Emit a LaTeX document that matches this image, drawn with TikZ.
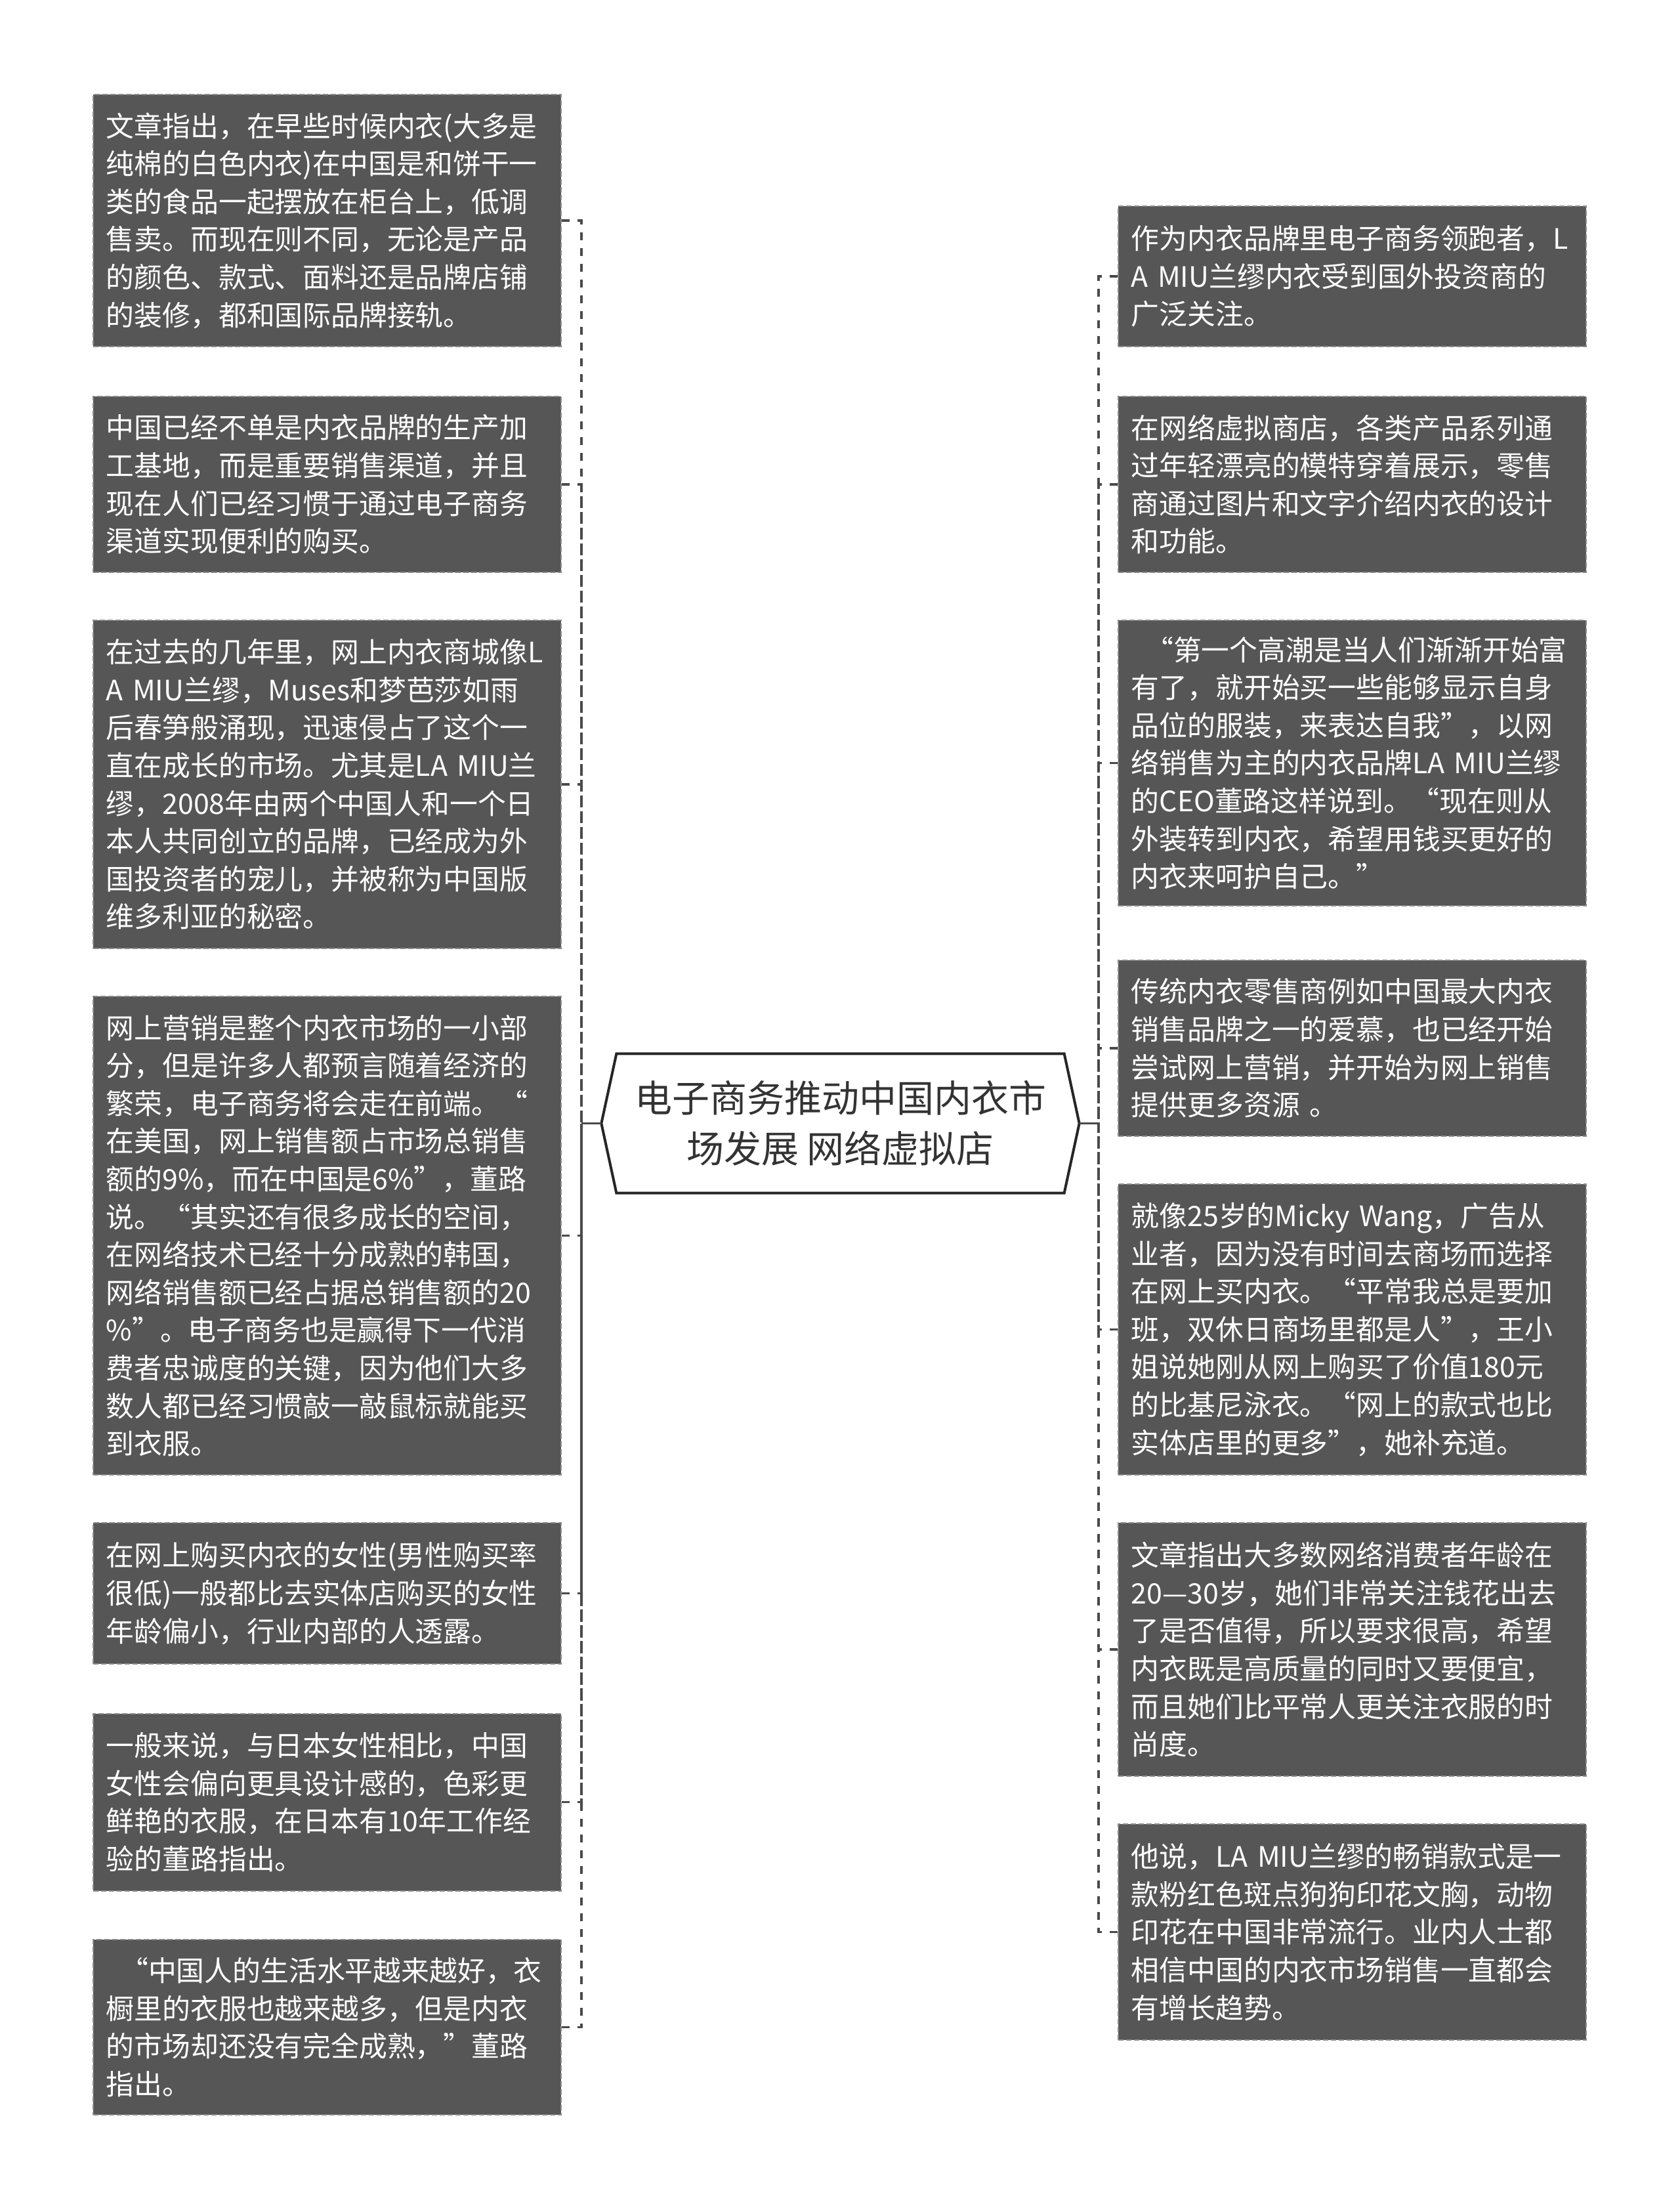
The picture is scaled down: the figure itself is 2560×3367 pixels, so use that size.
\documentclass[tikz,border=0pt]{standalone}
\usepackage{fontspec}
\setmainfont{Noto Sans CJK SC}
\definecolor{boxfill}{HTML}{565656}
\definecolor{boxedge}{HTML}{8C8C8C}
\definecolor{linec}{HTML}{4A4A4A}
\definecolor{titlec}{HTML}{333333}
\begin{document}
\begin{tikzpicture}[x=0.3pt,y=-0.3pt,
  leaf/.style={rectangle, fill=boxfill, draw=boxedge, line width=0.6pt,
    dash pattern=on 2.4pt off 1.2pt, text=white, align=left,
    text width=202pt, inner xsep=5.95pt, inner ysep=0pt,
    minimum width=213.9pt,
    font=\fontsize{12.85pt}{17.28pt}\selectfont},
  conn/.style={draw=linec, line width=1pt, dash pattern=on 3.6pt off 3.6pt},
  solidconn/.style={draw=linec, line width=1pt},
  hexbox/.style={rectangle, inner sep=0pt, minimum width=218.1pt, minimum height=63.3pt,
    align=center, text=titlec, font=\fontsize{17.1pt}{23.1pt}\selectfont}
]
\useasboundingbox (0,0) rectangle (2560,3367);
\fill[white] (0,0) rectangle (2560,3367);

% central node
\node[hexbox] (hex) at (1280.5,1711.5) {电子商务推动中国内衣市\\场发展 网络虚拟店};
\draw[black!85, line width=1.2pt, fill=white, line join=miter]
  (hex.west) -- ([xshift=6.9pt]hex.north west) -- ([xshift=-6.9pt]hex.north east)
  -- (hex.east) -- ([xshift=-6.9pt]hex.south east) -- ([xshift=6.9pt]hex.south west) -- cycle;
\node[hexbox] at (hex.center) {电子商务推动中国内衣市\\场发展 网络虚拟店};

% left boxes
\node[leaf, minimum height=115.2pt] (L1) at (498.5,336) {文章指出，在早些时候内衣(大多是\\纯棉的白色内衣)在中国是和饼干一\\类的食品一起摆放在柜台上，低调\\售卖。而现在则不同，无论是产品\\的颜色、款式、面料还是品牌店铺\\的装修，都和国际品牌接轨。};
\node[leaf, minimum height=80.4pt] (L2) at (498.5,738) {中国已经不单是内衣品牌的生产加\\工基地，而是重要销售渠道，并且\\现在人们已经习惯于通过电子商务\\渠道实现便利的购买。};
\node[leaf, minimum height=150pt] (L3) at (498.5,1195) {在过去的几年里，网上内衣商城像L\\A MIU兰缪，Muses和梦芭莎如雨\\后春笋般涌现，迅速侵占了这个一\\直在成长的市场。尤其是LA MIU兰\\缪，2008年由两个中国人和一个日\\本人共同创立的品牌，已经成为外\\国投资者的宠儿，并被称为中国版\\维多利亚的秘密。};
\node[leaf, minimum height=218.7pt] (L4) at (498.5,1882.5) {网上营销是整个内衣市场的一小部\\分，但是许多人都预言随着经济的\\繁荣，电子商务将会走在前端。“\\在美国，网上销售额占市场总销售\\额的9\%，而在中国是6\%”，董路\\说。“其实还有很多成长的空间，\\在网络技术已经十分成熟的韩国，\\网络销售额已经占据总销售额的20\\\%”。电子商务也是赢得下一代消\\费者忠诚度的关键，因为他们大多\\数人都已经习惯敲一敲鼠标就能买\\到衣服。};
\node[leaf, minimum height=64.5pt] (L5) at (498.5,2427.5) {在网上购买内衣的女性(男性购买率\\很低)一般都比去实体店购买的女性\\年龄偏小，行业内部的人透露。};
\node[leaf, minimum height=81pt] (L6) at (498.5,2745.5) {一般来说，与日本女性相比，中国\\女性会偏向更具设计感的，色彩更\\鲜艳的衣服，在日本有10年工作经\\验的董路指出。};
\node[leaf, minimum height=80.1pt] (L7) at (498.5,3088.5) {\hspace*{0.5em}“中国人的生活水平越来越好，衣\\橱里的衣服也越来越多，但是内衣\\的市场却还没有完全成熟，”董路\\指出。};

% right boxes
\node[leaf, minimum height=64.2pt] (R1) at (2060.5,421) {作为内衣品牌里电子商务领跑者，L\\A MIU兰缪内衣受到国外投资商的\\广泛关注。};
\node[leaf, minimum height=80.4pt] (R2) at (2060.5,738) {在网络虚拟商店，各类产品系列通\\过年轻漂亮的模特穿着展示，零售\\商通过图片和文字介绍内衣的设计\\和功能。};
\node[leaf, minimum height=130.5pt] (R3) at (2060.5,1162.5) {\hspace*{0.5em}“第一个高潮是当人们渐渐开始富\\有了，就开始买一些能够显示自身\\品位的服装，来表达自我”，以网\\络销售为主的内衣品牌LA MIU兰缪\\的CEO董路这样说到。“现在则从\\外装转到内衣，希望用钱买更好的\\内衣来呵护自己。”};
\node[leaf, minimum height=80.4pt] (R4) at (2060.5,1597) {传统内衣零售商例如中国最大内衣\\销售品牌之一的爱慕，也已经开始\\尝试网上营销，并开始为网上销售\\提供更多资源 。};
\node[leaf, minimum height=132.9pt] (R5) at (2060.5,2025.5) {就像25岁的Micky Wang，广告从\\业者，因为没有时间去商场而选择\\在网上买内衣。“平常我总是要加\\班，双休日商场里都是人”，王小\\姐说她刚从网上购买了价值180元\\的比基尼泳衣。“网上的款式也比\\实体店里的更多”，她补充道。};
\node[leaf, minimum height=115.8pt] (R6) at (2060.5,2513) {文章指出大多数网络消费者年龄在\\20—30岁，她们非常关注钱花出去\\了是否值得，所以要求很高，希望\\内衣既是高质量的同时又要便宜，\\而且她们比平常人更关注衣服的时\\尚度。};
\node[leaf, minimum height=98.7pt] (R7) at (2060.5,2943.5) {他说，LA MIU兰缪的畅销款式是一\\款粉红色斑点狗狗印花文胸，动物\\印花在中国非常流行。业内人士都\\相信中国的内衣市场销售一直都会\\有增长趋势。};

% connectors
\coordinate (spL) at (886,1711.5);
\coordinate (spR) at (1674,1711.5);
\draw[solidconn] (hex.west) -- (spL);
\draw[solidconn] (hex.east) -- (spR);
\foreach \n in {L1,L2,L3,L4,L5,L6,L7}{
  \draw[conn] (\n.east) -- (\n.east -| spL) -- (spL);
}
\foreach \n in {R1,R2,R3,R4,R5,R6,R7}{
  \draw[conn] (\n.west) -- (\n.west -| spR) -- (spR);
}
\end{tikzpicture}
\end{document}
